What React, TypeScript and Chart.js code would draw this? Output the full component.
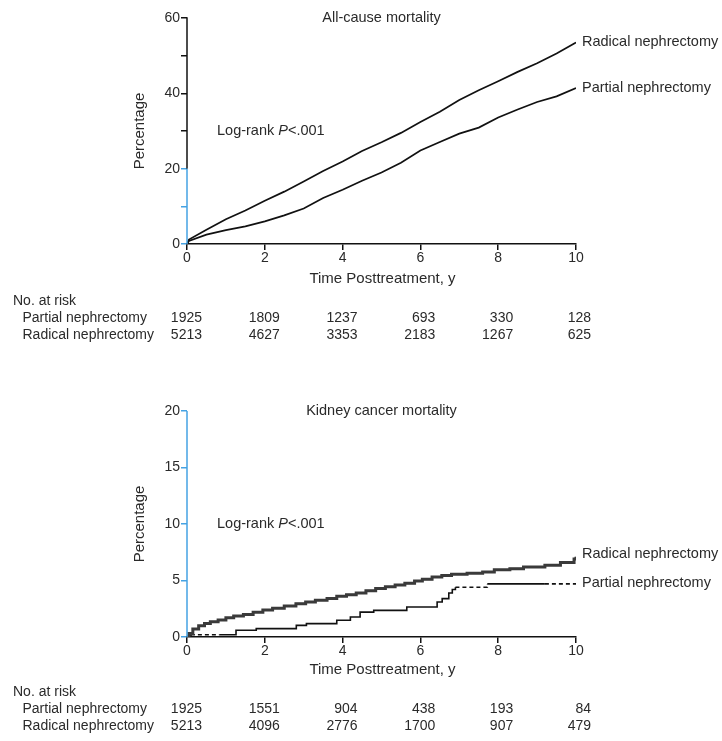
import React, { useEffect, useRef } from 'react';
import { Chart, registerables } from 'chart.js';

Chart.register(...registerables);

const FONT = '"Liberation Sans", Arial, Helvetica, sans-serif';
const TEXT = '#2a2a2a';
const INK = '#111111';
const BLUE = '#45a2e3';

// ---------------- data ----------------
const seriesNames = ['Radical nephrectomy', 'Partial nephrectomy'];
const riskTimes = [0, 2, 4, 6, 8, 10];

// All-cause mortality (%)
const allCauseTimes = [0, 0.05, 0.5, 1, 1.5, 2, 2.5, 3, 3.5, 4, 4.5, 5, 5.5, 6, 6.5, 7, 7.5, 8, 8.5, 9, 9.5, 10];
const allCauseRadical = [0, 1.2, 3.8, 6.6, 8.9, 11.5, 13.9, 16.6, 19.4, 21.9, 24.7, 27.0, 29.5, 32.4, 35.1, 38.2, 40.8, 43.2, 45.7, 48.0, 50.6, 53.5];
const allCausePartial = [0, 0.8, 2.5, 3.7, 4.7, 6.0, 7.6, 9.4, 12.2, 14.4, 16.8, 19.0, 21.6, 24.8, 27.1, 29.3, 30.9, 33.6, 35.7, 37.7, 39.2, 41.4];
const allCauseRiskPartial = [1925, 1809, 1237, 693, 330, 128];
const allCauseRiskRadical = [5213, 4627, 3353, 2183, 1267, 625];

// Kidney cancer mortality (%)
const kcmRadicalTimes = [0, 0.05, 0.15, 0.3, 0.45, 0.6, 0.8, 1.0, 1.2, 1.45, 1.7, 1.95, 2.2, 2.5, 2.8, 3.05, 3.3, 3.6, 3.85, 4.1, 4.35, 4.6, 4.85, 5.1, 5.35, 5.6, 5.85, 6.05, 6.3, 6.55, 6.8, 7.2, 7.6, 7.9, 8.3, 8.65, 9.2, 9.6, 9.95, 10];
const kcmRadical = [0, 0.3, 0.7, 1.0, 1.2, 1.35, 1.5, 1.7, 1.85, 2.0, 2.2, 2.4, 2.55, 2.75, 2.95, 3.1, 3.25, 3.4, 3.6, 3.75, 3.9, 4.1, 4.3, 4.45, 4.6, 4.75, 4.95, 5.1, 5.3, 5.45, 5.55, 5.65, 5.75, 5.95, 6.05, 6.2, 6.35, 6.6, 6.9, 7.1];
const kcmPartialTimes = [0, 0.1, 0.83, 1.26, 1.78, 2.81, 3.07, 3.85, 4.2, 4.45, 4.8, 5.65, 6.43, 6.56, 6.73, 6.82, 6.9, 7.72, 9.2, 10];
const kcmPartial = [0, 0.2, 0.2, 0.6, 0.74, 1.03, 1.18, 1.48, 1.77, 2.2, 2.36, 2.65, 3.1, 3.4, 3.9, 4.2, 4.4, 4.7, 4.7, 4.7];
const kcmPartialDashed = [[0.1, 0.83], [6.9, 7.72], [9.2, 10]];
const kcmRiskPartial = [1925, 1551, 904, 438, 193, 84];
const kcmRiskRadical = [5213, 4096, 2776, 1700, 907, 479];

const pts = (xs: number[], ys: number[]) => xs.map((x, i) => ({ x, y: ys[i] }));

type Panel = {
  top: number;
  height: number;
  areaTop: number;
  areaBottom: number;
  yMax: number;
  yStep: number;
  yLabelEvery: number;
  blueMax: number;
  title: string;
  titleY: number;
  logRankY: number;
  radicalLabelY: number;
  partialLabelY: number;
  xTitleY: number;
  tableY: number[];
  riskPartial: number[];
  riskRadical: number[];
  datasets: any[];
};

const AREA_LEFT = 187;
const AREA_RIGHT = 576;

const panels: Panel[] = [
  {
    top: 0,
    height: 350,
    areaTop: 18,
    areaBottom: 244,
    yMax: 60,
    yStep: 10,
    yLabelEvery: 20,
    blueMax: 20,
    title: 'All-cause mortality',
    titleY: 18,
    logRankY: 131,
    radicalLabelY: 42,
    partialLabelY: 88,
    xTitleY: 279,
    tableY: [301.5, 318.5, 335],
    riskPartial: allCauseRiskPartial,
    riskRadical: allCauseRiskRadical,
    datasets: [
      {
        label: seriesNames[0],
        data: pts(allCauseTimes, allCauseRadical),
        borderColor: INK,
        borderWidth: 1.7,
        pointRadius: 0,
        tension: 0,
      },
      {
        label: seriesNames[1],
        data: pts(allCauseTimes, allCausePartial),
        borderColor: INK,
        borderWidth: 1.7,
        pointRadius: 0,
        tension: 0,
      },
    ],
  },
  {
    top: 380,
    height: 361,
    areaTop: 411,
    areaBottom: 637,
    yMax: 20,
    yStep: 5,
    yLabelEvery: 5,
    blueMax: 20,
    title: 'Kidney cancer mortality',
    titleY: 411,
    logRankY: 524,
    radicalLabelY: 554,
    partialLabelY: 583,
    xTitleY: 670,
    tableY: [692.5, 709.5, 726.5],
    riskPartial: kcmRiskPartial,
    riskRadical: kcmRiskRadical,
    datasets: [
      {
        label: seriesNames[0],
        data: pts(kcmRadicalTimes, kcmRadical),
        borderColor: '#3a3a3a',
        borderWidth: 3,
        pointRadius: 0,
        stepped: true,
      },
      {
        label: seriesNames[0] + ' (inner)',
        data: pts(kcmRadicalTimes, kcmRadical),
        borderColor: '#a3a3a3',
        borderWidth: 1.6,
        pointRadius: 0,
        stepped: true,
      },
      {
        label: seriesNames[1],
        data: pts(kcmPartialTimes, kcmPartial),
        borderColor: INK,
        borderWidth: 1.6,
        pointRadius: 0,
        stepped: true,
        segment: {
          borderDash: (c: any) =>
            kcmPartialDashed.some(([a, b]) => c.p0.parsed.x >= a - 1e-6 && c.p1.parsed.x <= b + 1e-6)
              ? [4, 3]
              : undefined,
        },
      },
    ],
  },
];

function drawText(
  ctx: CanvasRenderingContext2D,
  s: string,
  x: number,
  y: number,
  align: CanvasTextAlign = 'left',
  size = 14.5,
  style = ''
) {
  ctx.font = `${style} ${size}px ${FONT}`;
  ctx.textAlign = align;
  ctx.textBaseline = 'middle';
  ctx.fillStyle = TEXT;
  ctx.fillText(s, x, y);
}

function makeAnnotations(p: Panel) {
  return {
    id: 'annotations' + p.top,
    afterDraw(chart: any) {
      const ctx: CanvasRenderingContext2D = chart.ctx;
      const { left, top, bottom, right } = chart.chartArea;
      const xs = chart.scales.x;
      const ys = chart.scales.y;
      const off = p.top;
      ctx.save();
      // y axis line (black above, blue below)
      const yBlue = ys.getPixelForValue(p.blueMax);
      ctx.lineWidth = 1.5;
      ctx.lineCap = 'butt';
      if (yBlue > top + 0.5) {
        ctx.strokeStyle = INK;
        ctx.beginPath();
        ctx.moveTo(left, top - 0.75);
        ctx.lineTo(left, yBlue);
        ctx.stroke();
      }
      ctx.strokeStyle = BLUE;
      ctx.beginPath();
      ctx.moveTo(left, Math.max(yBlue, top - 0.75));
      ctx.lineTo(left, bottom);
      ctx.stroke();

      // title
      drawText(ctx, p.title, (left + right) / 2, p.titleY - off, 'center', 14.5);

      // log-rank
      let lx = 217;
      const ly = p.logRankY - off;
      drawText(ctx, 'Log-rank ', lx, ly);
      ctx.font = `14.5px ${FONT}`;
      lx += ctx.measureText('Log-rank ').width;
      drawText(ctx, 'P', lx, ly, 'left', 14.5, 'italic');
      ctx.font = `italic 14.5px ${FONT}`;
      lx += ctx.measureText('P').width;
      drawText(ctx, '<.001', lx, ly);

      // end labels
      const ex = xs.getPixelForValue(10) + 6;
      drawText(ctx, seriesNames[0], ex, p.radicalLabelY - off);
      drawText(ctx, seriesNames[1], ex, p.partialLabelY - off);

      // axis titles
      drawText(ctx, 'Time Posttreatment, y', (left + right) / 2 + 1, p.xTitleY - off, 'center', 15);
      ctx.save();
      ctx.translate(140, (top + bottom) / 2);
      ctx.rotate(-Math.PI / 2);
      drawText(ctx, 'Percentage', 0, 0, 'center', 15);
      ctx.restore();

      // risk table
      drawText(ctx, 'No. at risk', 13, p.tableY[0] - off, 'left', 14);
      drawText(ctx, seriesNames[1], 22.5, p.tableY[1] - off, 'left', 14);
      drawText(ctx, seriesNames[0], 22.5, p.tableY[2] - off, 'left', 14);
      riskTimes.forEach((t, i) => {
        const x = xs.getPixelForValue(t) + 15;
        drawText(ctx, String(p.riskPartial[i]), x, p.tableY[1] - off, 'right', 14);
        drawText(ctx, String(p.riskRadical[i]), x, p.tableY[2] - off, 'right', 14);
      });
      ctx.restore();
    },
  };
}

function PanelChart({ p }: { p: Panel }) {
  const ref = useRef<HTMLCanvasElement>(null);
  useEffect(() => {
    if (!ref.current) return;
    const X_H = 40;
    const chart = new Chart(ref.current, {
      type: 'line',
      data: { datasets: p.datasets },
      options: {
        animation: false,
        responsive: false,
        maintainAspectRatio: false,
        layout: {
          padding: {
            left: 0,
            right: 722 - AREA_RIGHT,
            top: p.areaTop - p.top,
            bottom: p.height - (p.areaBottom - p.top) - X_H,
          },
        },
        plugins: { legend: { display: false }, tooltip: { enabled: false } },
        scales: {
          x: {
            type: 'linear',
            min: 0,
            max: 10,
            afterFit: (s: any) => {
              s.height = X_H;
            },
            ticks: {
              stepSize: 2,
              padding: 0,
              maxRotation: 0,
              autoSkip: false,
              color: TEXT,
              font: { family: FONT, size: 14 },
            },
            grid: { drawOnChartArea: false, tickLength: 6, color: INK, lineWidth: 1.5 },
            border: { display: true, color: INK, width: 1.5 },
          },
          y: {
            type: 'linear',
            min: 0,
            max: p.yMax,
            afterFit: (s: any) => {
              s.width = AREA_LEFT;
            },
            ticks: {
              stepSize: p.yStep,
              padding: 1,
              color: TEXT,
              font: { family: FONT, size: 14 },
              callback: (v: any) => (Number(v) % p.yLabelEvery === 0 ? String(v) : ''),
            },
            grid: {
              drawOnChartArea: false,
              tickLength: 6,
              lineWidth: 1.5,
              color: (c: any) => (c.tick && c.tick.value <= p.blueMax ? BLUE : INK),
            },
            border: { display: false },
          },
        },
      } as any,
      plugins: [makeAnnotations(p)],
    });
    return () => chart.destroy();
  }, [p]);
  return (
    <canvas
      ref={ref}
      width={722}
      height={p.height}
      style={{ position: 'absolute', left: 0, top: p.top, width: 722, height: p.height }}
    />
  );
}

export default function App() {
  return (
    <div style={{ position: 'absolute', left: 0, top: 0, width: 722, height: 741, background: '#fff' }}>
      {panels.map((p) => (
        <PanelChart key={p.top} p={p} />
      ))}
    </div>
  );
}
